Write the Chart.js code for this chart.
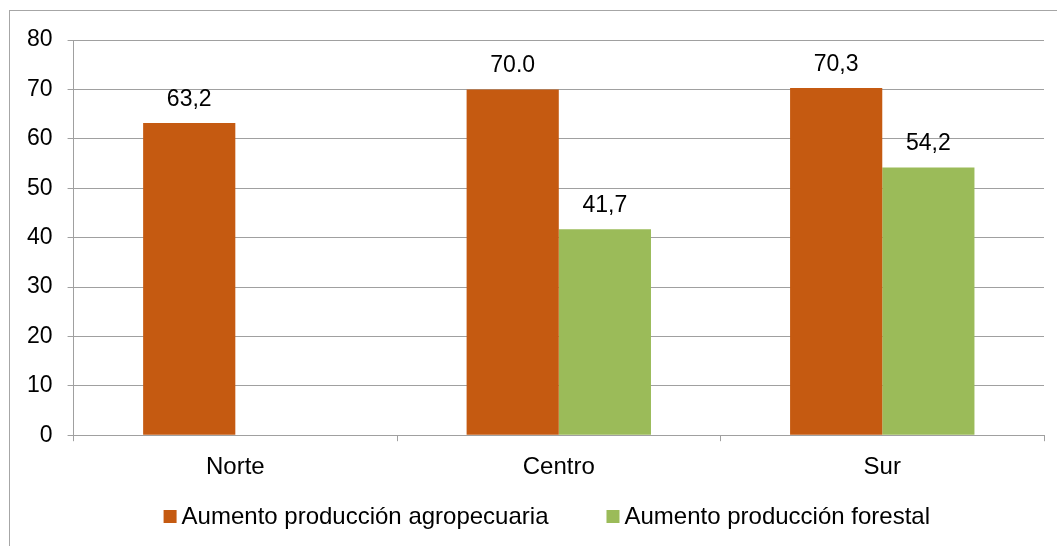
<!DOCTYPE html>
<html>
<head>
<meta charset="utf-8">
<script src="https://cdn.jsdelivr.net/npm/chart.js@4"></script>
<style>
  body { margin: 0; background: #fff; }
  #wrap { width: 1057px; height: 546px; }
</style>
</head>
<body>
<div id="wrap"><canvas id="myChart" width="1057" height="546"></canvas></div>
<script>
const regiones = ["Norte", "Centro", "Sur"];
const agropecuaria = [63.2, 70.0, 70.3];
const forestal = [null, 41.7, 54.2];
const etiquetasAgro = ["63,2", "70.0", "70,3"];
const etiquetasForestal = ["", "41,7", "54,2"];
const yTicks = [0, 10, 20, 30, 40, 50, 60, 70, 80];

const fuente = "'Liberation Sans', Arial, sans-serif";

// outer frame around the whole chart
const marco = {
    id: "marco",
    beforeDraw(chart) {
        const c = chart.ctx;
        c.save();
        c.fillStyle = "#fff";
        c.fillRect(0, 0, chart.width, chart.height);
        c.strokeStyle = "#a6a6a6";
        c.lineWidth = 1;
        c.strokeRect(9.5, 10.5, chart.width + 20, chart.height + 20);
        c.restore();
    },
};

// value labels above the bars
const etiquetas = {
    id: "etiquetas",
    afterDatasetsDraw(chart) {
        const c = chart.ctx;
        const textos = [etiquetasAgro, etiquetasForestal];
        c.save();
        c.font = "23px " + fuente;
        c.fillStyle = "#000";
        c.textAlign = "center";
        c.textBaseline = "alphabetic";
        chart.data.datasets.forEach((ds, i) => {
            const meta = chart.getDatasetMeta(i);
            meta.data.forEach((bar, j) => {
                if (ds.data[j] === null) return;
                c.fillText(textos[i][j], bar.x, bar.y - 17);
            });
        });
        c.restore();
    },
};

// legend under the axis, Excel style (small square, tight gap)
const leyenda = {
    id: "leyenda",
    afterDraw(chart) {
        const c = chart.ctx;
        const y = 516;
        let x = chart.chartArea.left + 90;
        c.save();
        c.font = "24px " + fuente;
        c.textBaseline = "middle";
        c.textAlign = "left";
        chart.data.datasets.forEach((ds) => {
            c.fillStyle = ds.backgroundColor;
            c.fillRect(x, y - 6, 13, 13);
            x += 18;
            c.fillStyle = "#000";
            c.fillText(ds.label, x, y + 1);
            x += c.measureText(ds.label).width + 58;
        });
        c.restore();
    },
};

const ctx = document.getElementById("myChart").getContext("2d");
new Chart(ctx, {
    type: "bar",
    data: {
        labels: regiones,
        datasets: [
            {
                label: "Aumento producción agropecuaria",
                data: agropecuaria,
                backgroundColor: "#C55A11",
            },
            {
                label: "Aumento producción forestal",
                data: forestal,
                backgroundColor: "#9BBB59",
            },
        ],
    },
    options: {
        responsive: false,
        animation: false,
        layout: {
            padding: { left: 12, top: 40, right: 13, bottom: 52 },
        },
        datasets: {
            bar: { categoryPercentage: 0.57, barPercentage: 1.0 },
        },
        plugins: {
            legend: { display: false },
            tooltip: { enabled: false },
        },
        scales: {
            x: {
                grid: {
                    drawOnChartArea: false,
                    tickLength: 6,
                    color: "#a0a0a0",
                },
                border: { color: "#a0a0a0" },
                ticks: {
                    padding: 12,
                    color: "#000",
                    font: { family: fuente, size: 24 },
                },
            },
            y: {
                min: 0,
                max: 80,
                afterBuildTicks: (axis) => {
                    axis.ticks = yTicks.map((v) => ({ value: v }));
                },
                grid: {
                    color: "#a0a0a0",
                    tickLength: 6,
                },
                border: { color: "#a0a0a0" },
                ticks: {
                    padding: 15,
                    color: "#000",
                    font: { family: fuente, size: 23 },
                },
            },
        },
    },
    plugins: [marco, etiquetas, leyenda],
});
</script>
</body>
</html>
